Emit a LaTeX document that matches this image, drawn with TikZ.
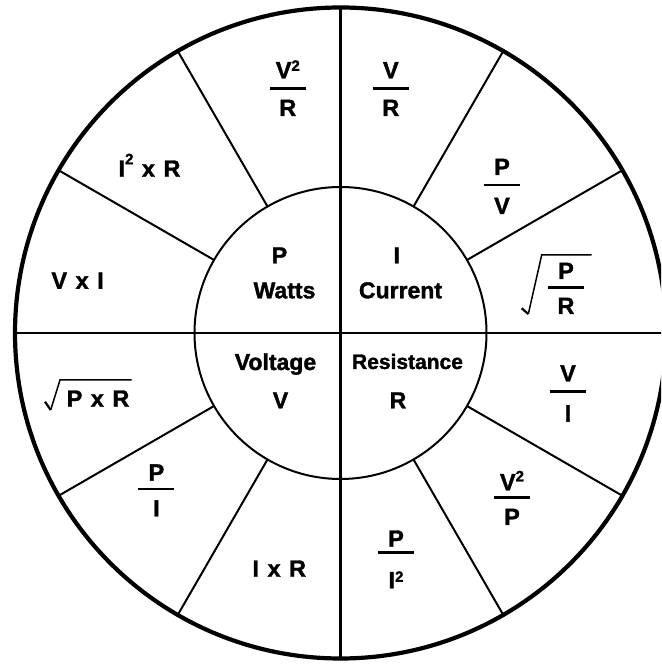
\documentclass[tikz,border=0pt]{standalone}
\usepackage{fontspec}
\setmainfont{Liberation Sans}[BoldFont={Liberation Sans Bold}, BoldFeatures={FakeBold=1.5}]
\newcommand\supr[1]{\raisebox{#1}{\fontsize{15}{15}\selectfont 2}}
\newcommand\sx{\hspace{8.5pt}x\hspace{8.5pt}}
\tikzset{
  lbl/.style={inner sep=0pt, anchor=base, font=\bfseries\fontsize{23.5}{24}\selectfont},
  clbl/.style={inner sep=0pt, anchor=base, font=\bfseries\fontsize{23}{24}\selectfont},
  fbar/.style={line width=2.7pt},
  rad/.style={line width=1.5pt, line join=miter},
  radtick/.style={line width=2.2pt},
  spoke/.style={line width=2pt},
  ring/.style={circle, draw, inner sep=0pt, outer sep=0pt},
}
\newcommand\fracat[7]{%
  \node[lbl] (#1n) at (#2,#3) {#6};
  \node[lbl] (#1d) at (#2,#5) {#7};
  \coordinate (#1a) at (#2-18,#4);
  \coordinate (#1b) at (#2+18,#4);
  \draw[fbar] (#1a) -- (#1b);
}
\begin{document}
\begin{tikzpicture}[x=1pt,y=1pt]
\useasboundingbox (0,0) rectangle (661,666);
\clip (0,0) rectangle (661,666);
% circles
\node[ring, line width=4.2pt, minimum size=651pt] (outer) at (340.5,333) {};
\node[ring, line width=2pt, minimum size=292pt] (inner) at (340.5,333) {};
% diameters
\draw[line width=2.2pt] (outer.west) -- (outer.east);
\draw[line width=2.2pt] (outer.north) -- (outer.south);
% spokes
\foreach \a in {30,60,120,150,210,240,300,330}
  \draw[spoke] (inner.\a) -- (outer.\a);
% centre labels
\node[clbl] (p) at (279.5,402.7) {P};
\node[clbl] (watts) at (284.5,367.7) {Watts};
\node[clbl] (i) at (396.7,402.7) {I};
\node[clbl] (current) at (400.5,367.7) {Current};
\node[clbl] (voltage) at (275.5,296) {Voltage};
\node[clbl] (v) at (280.5,257.7) {V};
\node[clbl, font=\bfseries\fontsize{21}{21}\selectfont] (resistance) at (407.5,297) {Resistance};
\node[clbl] (r) at (398,257.7) {R};
% ring labels
\fracat{f1}{287.8}{587.7}{577.7}{550}{V\supr{7.5pt}}{R}
\fracat{f2}{390.8}{587.7}{577.7}{550}{V}{R}
\fracat{f3}{502}{491}{481}{452}{P}{V}
\fracat{f4}{566}{387}{378.3}{352}{P}{R}
\draw[radtick] (521.7,357.7) -- (528.3,352);
\draw[rad] (528.3,352) -- (541.7,411) -- (591.7,411);
\fracat{f5}{568}{284.5}{274.8}{244.4}{V}{I}
\fracat{f6}{512}{175.7}{168.5}{141}{V\supr{9pt}}{P}
\fracat{f7}{396}{119.3}{113.3}{77.7}{P}{I\supr{6.5pt}}
\node[lbl] (ixr) at (279.3,89.3) {I\sx R};
\fracat{f9}{156.4}{185.4}{177}{149.5}{P}{I}
\node[lbl] (pxr) at (98,259.3) {P\sx R};
\draw[radtick] (45,264.3) -- (50.7,256);
\draw[rad] (50.7,256) -- (60,286) -- (131.7,286);
\node[lbl] (vxi) at (77.6,377.2) {V\sx I};
\node[lbl] (i2xr) at (149.5,489.3) {I\supr{12.5pt}\sx R};
\end{tikzpicture}
\end{document}
